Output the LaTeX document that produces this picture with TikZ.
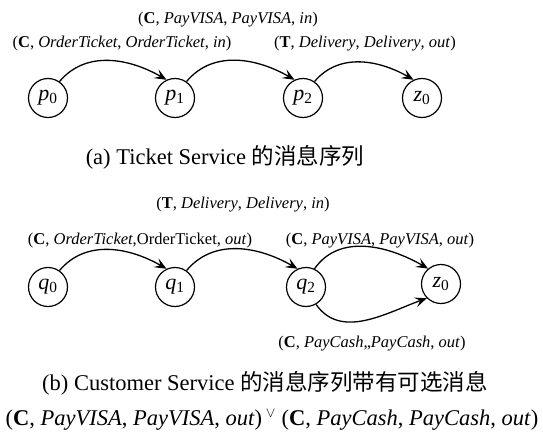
\documentclass[tikz,border=0pt]{standalone}
\usepackage{fontspec}
\setmainfont{Liberation Serif}
\newfontfamily\cjk{Noto Sans CJK SC}
\usetikzlibrary{arrows.meta}
\newcommand\stt[2]{\textit{#1}\textsubscript{#2}}

\begin{document}
\begin{tikzpicture}[x=1pt,y=-1pt,
    state/.style={draw,circle,line width=1.2pt,minimum size=39pt,inner sep=0pt,
      font=\fontsize{22}{24}\selectfont},
    msg/.style={font=\fontsize{16.5}{18}\selectfont},
    figcap/.style={font=\fontsize{22.5}{24}\selectfont},
    trans/.style={line width=1.3pt,-{Stealth[length=12pt,width=10pt,inset=5pt]}}]
  \useasboundingbox (0,0) rectangle (543,441);
  % (a) Ticket Service
  \node[state] (p0) at (48,98) {\stt{p}{0}};
  \node[state] (p1) at (175,98) {\stt{p}{1}};
  \node[state] (p2) at (303,98) {\stt{p}{2}};
  \node[state] (za) at (422,98) {\stt{z}{0}};
  \node[msg] (ma1) at (122,44) {(\textbf{C}, \textit{OrderTicket}, \textit{OrderTicket}, \textit{in})};
  \node[msg] (ma2) at (228,20) {(\textbf{C}, \textit{PayVISA}, \textit{PayVISA}, \textit{in})};
  \node[msg] (ma3) at (365,44) {(\textbf{T}, \textit{Delivery}, \textit{Delivery}, \textit{out})};
  \draw[trans] (p0.55) to[out=50,in=150] (p1.115);
  \draw[trans] (p1.55) to[out=50,in=150] (p2.115);
  \draw[trans] (p2.55) to[out=50,in=150] (za.115);
  \node[figcap] (capa) at (225,157) {(a) Ticket Service {\cjk 的消息序列}};
  % (b) Customer Service
  \node[state] (q0) at (48,287) {\stt{q}{0}};
  \node[state] (q1) at (175,287) {\stt{q}{1}};
  \node[state] (q2) at (306,287) {\stt{q}{2}};
  \node[state] (zb) at (441,284) {\stt{z}{0}};
  \node[msg] (mb1) at (243,205) {(\textbf{T}, \textit{Delivery}, \textit{Delivery}, \textit{in})};
  \node[msg] (mb2) at (140,241) {(\textbf{C}, \textit{OrderTicket},OrderTicket, \textit{out})};
  \node[msg] (mb3) at (380,241) {(\textbf{C}, \textit{PayVISA}, \textit{PayVISA}, \textit{out})};
  \node[msg] (mb4) at (372,344) {(\textbf{C}, \textit{PayCash},,\textit{PayCash}, \textit{out})};
  \draw[trans] (q0.55) to[out=50,in=150] (q1.115);
  \draw[trans] (q1.55) to[out=50,in=150] (q2.115);
  \draw[trans] (q2.65) to[out=55,in=150] (zb.130);
  \draw[trans] (q2.-60) to[out=-55,in=200] (zb.225);
  \node[figcap] (capb) at (265,383) {(b) Customer Service {\cjk 的消息序列带有可选消息}};
  \node[figcap] (alt) at (272,420) {(\textbf{C}, \textit{PayVISA}, \textit{PayVISA}, \textit{out})\,\textsuperscript{$\vee$} (\textbf{C}, \textit{PayCash}, \textit{PayCash}, \textit{out})};
\end{tikzpicture}
\end{document}
